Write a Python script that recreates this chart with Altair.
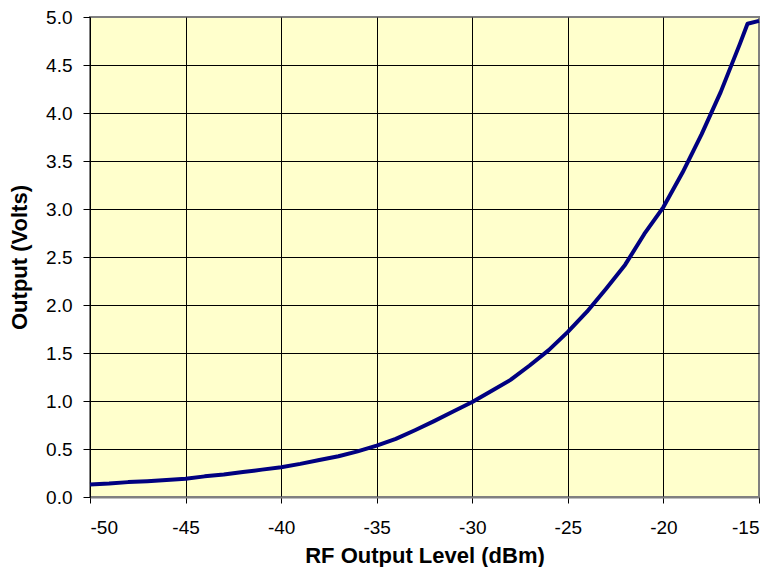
import altair as alt
import pandas as pd

rf_dbm = [-50, -49, -48, -47, -46, -45, -44, -43, -42, -41, -40, -39, -38, -37, -36,
          -35, -34, -33, -32, -31, -30, -29, -28, -27, -26, -25, -24, -23, -22, -21,
          -20, -19, -18, -17, -16, -15.6, -15]
volts = [0.13, 0.14, 0.155, 0.165, 0.178, 0.19, 0.215, 0.235, 0.26, 0.285, 0.31, 0.345,
         0.385, 0.425, 0.475, 0.535, 0.605, 0.695, 0.79, 0.89, 0.99, 1.105, 1.22, 1.37,
         1.53, 1.72, 1.93, 2.17, 2.42, 2.74, 3.02, 3.38, 3.78, 4.22, 4.72, 4.93, 4.96]

x_ticks = [-50, -45, -40, -35, -30, -25, -20, -15]
y_ticks = [0.0, 0.5, 1.0, 1.5, 2.0, 2.5, 3.0, 3.5, 4.0, 4.5, 5.0]

df = pd.DataFrame({"rf": rf_dbm, "v": volts})

FONT = "Liberation Sans"

chart = alt.Chart(df).mark_line(
    color="#000080", strokeWidth=4, strokeJoin="round", strokeCap="butt"
).encode(
    x=alt.X("rf:Q", title="RF Output Level (dBm)",
            scale=alt.Scale(domain=[-50, -15], nice=False, zero=False),
            axis=alt.Axis(values=x_ticks, labelExpr="toString(datum.value)", grid=True,
                          gridColor={"condition": {"test": "datum.value == -15 || datum.value == -50", "value": "transparent"}, "value": "#000000"},
                          gridWidth=1,
                          domainColor="#808080", domainWidth=2,
                          tickColor="#000000", tickSize=6, tickWidth=1,
                          labelPadding=15, labelFontSize=19, labelFont=FONT,
                          labelColor="#000000",
                          titleFont=FONT, titleFontSize=22, titleFontWeight="bold",
                          titleColor="#000000", titlePadding=8)),
    y=alt.Y("v:Q", title="Output (Volts)",
            scale=alt.Scale(domain=[0, 5], nice=False),
            axis=alt.Axis(values=y_ticks, format=".1f", grid=True,
                          gridColor={"condition": {"test": "datum.value == 5 || datum.value == 0", "value": "transparent"}, "value": "#000000"},
                          gridWidth=1,
                          domainColor="#000000", domainWidth=1,
                          tickColor="#000000", tickSize=7, tickWidth=1,
                          labelPadding=11, labelFontSize=19, labelFont=FONT,
                          labelColor="#000000",
                          titleFont=FONT, titleFontSize=22, titleFontWeight="bold",
                          titleColor="#000000", titlePadding=14)),
).properties(
    width=669, height=480,
    autosize=alt.AutoSizeParams(type="none"),
    padding={"left": 82, "top": 9, "right": 9, "bottom": 70},
    background="white",
).configure_view(
    fill="#FFFFCC", stroke="#808080", strokeWidth=2
)

chart.save("out.html", embed_options={"renderer": "svg", "actions": False})
